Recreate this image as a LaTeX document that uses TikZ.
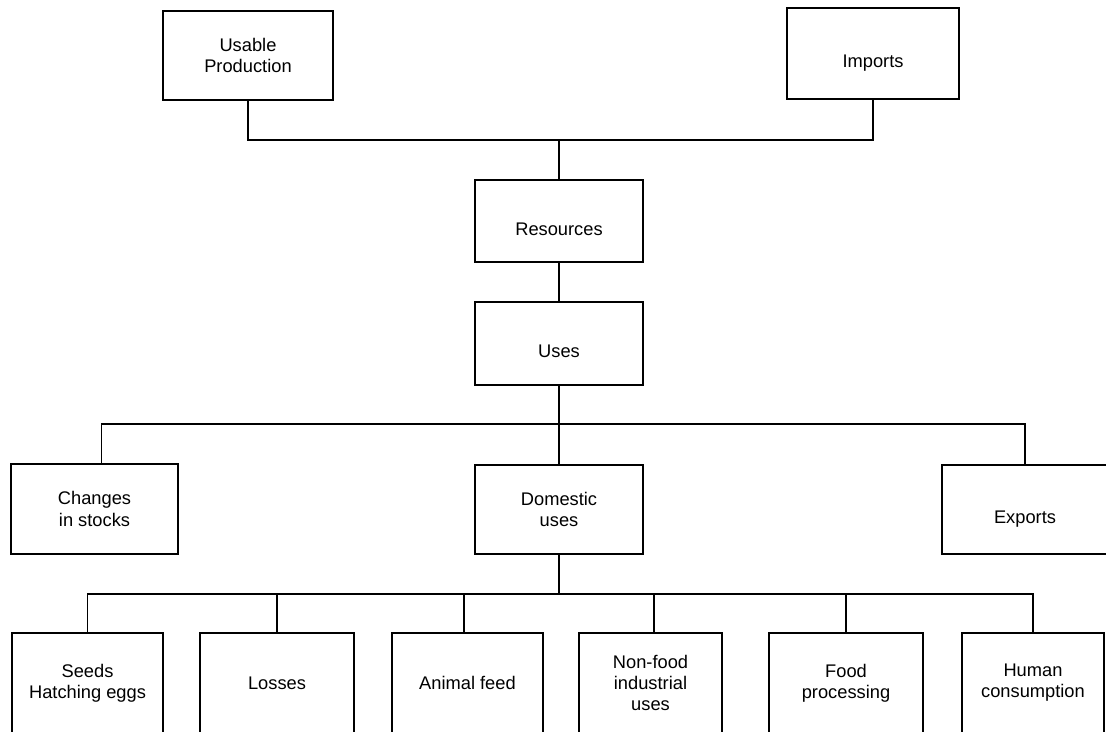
\documentclass[tikz,border=0pt]{standalone}
\usepackage{fontspec}
\setmainfont{Liberation Sans}
\usepackage{tikz}
\usetikzlibrary{calc}

\begin{document}
\begin{tikzpicture}[x=0.025cm, y=-0.025cm,
		box/.style={draw, line width=0.45mm, align=center, inner sep=0pt, font=\fontsize{13}{15}\selectfont},
		oneline/.style={text height=20pt, text depth=0pt},
		wire/.style={line width=0.45mm}]
			%%%%% START %%%%%
			
			\fill[white] (0, 0) rectangle (1106, 731);
			\useasboundingbox (0, 0) rectangle (1106, 731);
			
			\node[box, minimum width=4.25cm, minimum height=2.225cm] (prod) at (248, 55.5) {Usable\\Production};
			\node[box, oneline, minimum width=4.3cm, minimum height=2.275cm] (imp) at (873, 53.5) {Imports};
			
			\node[box, oneline, minimum width=4.2cm, minimum height=2.05cm] (res) at (559, 221) {Resources};
			\node[box, oneline, minimum width=4.2cm, minimum height=2.075cm] (uses) at (559, 343.5) {Uses};
			
			\node[box, minimum width=4.175cm, minimum height=2.25cm] (chg) at (94.5, 509) {Changes\\in stocks};
			\node[box, minimum width=4.2cm, minimum height=2.225cm] (dom) at (559, 509.5) {Domestic\\uses};
			\node[box, oneline, minimum width=4.15cm, minimum height=2.225cm] (exp) at (1025, 509.5) {Exports};
			
			\node[box, minimum width=3.775cm, minimum height=2.5cm] (seeds) at (87.5, 683) {Seeds\\Hatching eggs};
			\node[box, minimum width=3.85cm, minimum height=2.5cm] (loss) at (277, 683) {Losses};
			\node[box, minimum width=3.775cm, minimum height=2.5cm] (feed) at (467.5, 683) {Animal feed};
			\node[box, minimum width=3.575cm, minimum height=2.5cm] (nonfood) at (650.5, 683) {Non-food\\industrial\\uses};
			\node[box, minimum width=3.85cm, minimum height=2.5cm] (proc) at (846, 683) {Food\\processing};
			\node[box, minimum width=3.55cm, minimum height=2.5cm] (human) at (1033, 683) {Human\\consumption};
			
			% junctions
			\coordinate (jtop) at ($(res.north |- 0, 140)$);
			\coordinate (jmid) at ($(uses.south |- 0, 424)$);
			\coordinate (jbot) at ($(dom.south |- 0, 594)$);
			
			\draw[wire] (prod.south) |- (jtop) -| (imp.south);
			\draw[wire] (jtop) -- (res.north);
			\draw[wire] (res.south) -- (uses.north);
			
			\draw[wire] (uses.south) -- (jmid) -- (dom.north);
			\draw[wire] ([xshift=5pt]chg.north) |- (jmid) -| (exp.north);
			
			\draw[wire] (dom.south) -- (jbot);
			\draw[wire] (seeds.north) |- (jbot) -| (human.north);
			\foreach \b/\s in {loss/0pt, feed/-2.5pt, nonfood/2.5pt, proc/0pt}
				\draw[wire] ([xshift=\s]\b.north) -- ([xshift=\s]\b.north |- jbot);
			
			%%%%% END %%%%%
		\end{tikzpicture}
\end{document}
